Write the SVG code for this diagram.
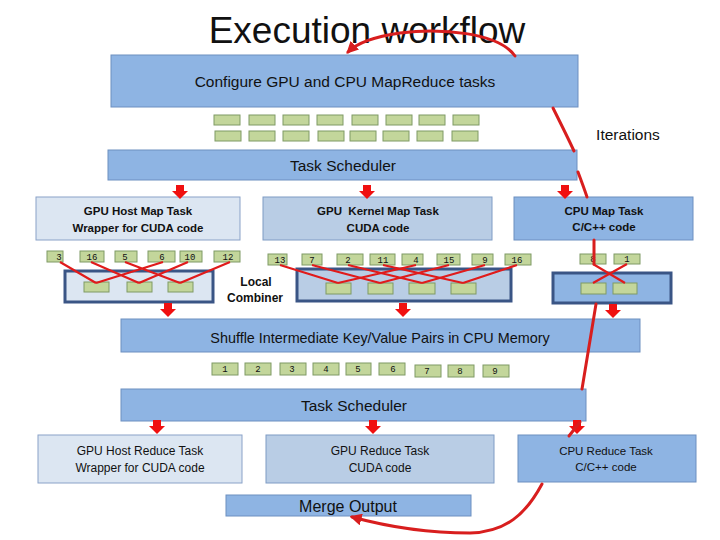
<svg xmlns="http://www.w3.org/2000/svg" xmlns:xlink="http://www.w3.org/1999/xlink" width="720" height="540" viewBox="0 0 720 540">
<style>
text{font-family:"Liberation Sans",Arial,sans-serif;fill:#111;text-anchor:middle}
.b1{fill:#8eb4e3;stroke:#6d8fc0;stroke-width:1}
.b2{fill:#b9cde5;stroke:#7f9bc4;stroke-width:1}
.b3{fill:#dce6f2;stroke:#8aa2c8;stroke-width:1}
.cb{stroke:#3a5585;stroke-width:3}
.g{fill:#c3d69b;stroke:#7f9a65;stroke-width:1}
.n{font-family:"Liberation Mono","DejaVu Sans Mono",monospace;font-size:9px}
.m{font-size:11.5px;font-weight:bold}
.r{font-size:12px}
.x{stroke:#e01b1b;stroke-width:2.2;fill:none}
.it{stroke:#d81e1e;stroke-width:3;fill:none;stroke-linecap:round}
</style>
<defs>
<path id="ba" d="M-4,0 h8 v6 h4 l-8,8 l-8,-8 h4 z" fill="#f01010"/>
<marker id="ah" viewBox="0 0 10 10" refX="8" refY="5" markerWidth="12" markerHeight="12" markerUnits="userSpaceOnUse" orient="auto"><path d="M0,0 L10,5 L0,10 z" fill="#d81e1e"/></marker>
</defs>
<rect width="720" height="540" fill="#fff"/>
<text x="367" y="43" style="font-size:37px">Execution workflow</text>
<text x="628" y="140" style="font-size:15.5px">Iterations</text>

<g id="config"><rect class="b1" x="111" y="55" width="467" height="52"/><text x="345" y="87" style="font-size:15.5px">Configure GPU and CPU MapReduce tasks</text></g>
<g id="tasks">
<rect class="g" x="214" y="115" width="26" height="10"/><rect class="g" x="249" y="115" width="26" height="10"/><rect class="g" x="283" y="115" width="26" height="10"/><rect class="g" x="317" y="115" width="26" height="10"/><rect class="g" x="352" y="115" width="26" height="10"/><rect class="g" x="386" y="115" width="26" height="10"/><rect class="g" x="419" y="115" width="26" height="10"/><rect class="g" x="453" y="115" width="26" height="10"/>
<rect class="g" x="215" y="131" width="26" height="10"/><rect class="g" x="249" y="131" width="26" height="10"/><rect class="g" x="283" y="131" width="26" height="10"/><rect class="g" x="318" y="131" width="26" height="10"/><rect class="g" x="350" y="131" width="26" height="10"/><rect class="g" x="383" y="131" width="26" height="10"/><rect class="g" x="417" y="131" width="26" height="10"/><rect class="g" x="452" y="131" width="26" height="10"/>
</g>
<g id="sched1"><rect class="b1" x="108" y="150" width="469" height="30"/><text x="343" y="171" style="font-size:15.5px">Task Scheduler</text></g>

<g id="gpuhostmap"><rect class="b3" x="36" y="197" width="204" height="43"/><text class="m" x="138" y="215">GPU Host Map Task</text><text class="m" x="138" y="232">Wrapper for CUDA code</text></g>
<g id="gpukernelmap"><rect class="b2" x="263" y="197" width="229" height="43"/><text class="m" x="378" y="215" xml:space="preserve">GPU  Kernel Map Task</text><text class="m" x="378" y="232">CUDA code</text></g>
<g id="cpumap"><rect class="b1" x="514" y="197" width="179" height="43"/><text class="m" x="604" y="215">CPU Map Task</text><text class="m" x="604" y="231">C/C++ code</text></g>

<g id="keys1">
<rect class="g" x="47" y="251" width="16" height="11"/><text class="n" x="59" y="260">3</text>
<rect class="g" x="80" y="251" width="24" height="11"/><text class="n" x="92" y="260">16</text>
<rect class="g" x="115" y="251" width="22" height="11"/><text class="n" x="125" y="260">5</text>
<rect class="g" x="148" y="251" width="27" height="11"/><text class="n" x="162" y="260">6</text>
<rect class="g" x="180" y="251" width="22" height="11"/><text class="n" x="190" y="260">10</text>
<rect class="g" x="214" y="251" width="26" height="11"/><text class="n" x="228" y="260">12</text>
<rect class="g" x="268" y="254" width="19" height="11"/><text class="n" x="280" y="263">13</text>
<rect class="g" x="302" y="254" width="20" height="11"/><text class="n" x="312" y="263">7</text>
<rect class="g" x="337" y="254" width="26" height="11"/><text class="n" x="348" y="263">2</text>
<rect class="g" x="370" y="254" width="25" height="11"/><text class="n" x="383" y="263">11</text>
<rect class="g" x="402" y="254" width="21" height="11"/><text class="n" x="416" y="263">4</text>
<rect class="g" x="437" y="254" width="23" height="11"/><text class="n" x="449" y="263">15</text>
<rect class="g" x="472" y="254" width="21" height="11"/><text class="n" x="485" y="263">9</text>
<rect class="g" x="505" y="254" width="26" height="11"/><text class="n" x="517" y="263">16</text>
<rect class="g" x="580" y="254" width="26" height="10"/><text class="n" x="593" y="262">8</text>
<rect class="g" x="614" y="254" width="26" height="10"/><text class="n" x="627" y="262">1</text>
</g>

<g id="combiner1"><rect class="b3 cb" x="65" y="271" width="148" height="31"/><rect class="g" x="84" y="282" width="25" height="10"/><rect class="g" x="127" y="282" width="25" height="10"/><rect class="g" x="168" y="282" width="25" height="10"/></g>
<g id="combiner2"><rect class="b2 cb" x="297" y="269" width="214" height="32"/><rect class="g" x="326" y="283" width="25" height="11"/><rect class="g" x="368" y="283" width="25" height="11"/><rect class="g" x="409" y="283" width="26" height="11"/><rect class="g" x="451" y="283" width="25" height="11"/></g>
<g id="combiner3"><rect class="b1 cb" x="553" y="273" width="118" height="30"/><rect class="g" x="581" y="283" width="25" height="11"/><rect class="g" x="613" y="283" width="24" height="11"/></g>
<g id="localcombiner"><text x="256" y="286" style="font-size:12px;font-weight:bold">Local</text><text x="255" y="302" style="font-size:12px;font-weight:bold">Combiner</text></g>

<g id="shuffle"><rect class="b1" x="121" y="319" width="519" height="33"/><text x="380" y="343" style="font-size:14.4px">Shuffle Intermediate Key/Value Pairs in CPU Memory</text></g>
<g id="keys2">
<rect class="g" x="212" y="363" width="26" height="12"/><text class="n" x="225" y="372">1</text>
<rect class="g" x="245" y="363" width="26" height="12"/><text class="n" x="258" y="372">2</text>
<rect class="g" x="280" y="363" width="26" height="12"/><text class="n" x="292" y="372">3</text>
<rect class="g" x="313" y="363" width="26" height="12"/><text class="n" x="326" y="372">4</text>
<rect class="g" x="346" y="363" width="25" height="12"/><text class="n" x="358" y="372">5</text>
<rect class="g" x="379" y="363" width="26" height="12"/><text class="n" x="393" y="372">6</text>
<rect class="g" x="415" y="365" width="26" height="12"/><text class="n" x="427" y="374">7</text>
<rect class="g" x="448" y="365" width="26" height="12"/><text class="n" x="460" y="374">8</text>
<rect class="g" x="483" y="365" width="26" height="12"/><text class="n" x="495" y="374">9</text>
</g>
<g id="sched2"><rect class="b1" x="121" y="389" width="465" height="32"/><text x="354" y="411" style="font-size:15.5px">Task Scheduler</text></g>

<g id="gpuhostreduce"><rect class="b3" x="38" y="435" width="204" height="48"/><text class="r" x="140" y="455">GPU Host Reduce Task</text><text class="r" x="140" y="472">Wrapper for CUDA code</text></g>
<g id="gpureduce"><rect class="b2" x="266" y="435" width="228" height="48"/><text class="r" x="380" y="455">GPU Reduce Task</text><text class="r" x="380" y="472">CUDA code</text></g>
<g id="cpureduce"><rect class="b1" x="518" y="435" width="178" height="47"/><text x="606" y="455" style="font-size:11.5px">CPU Reduce Task</text><text x="606" y="471" style="font-size:11.5px">C/C++ code</text></g>
<g id="merge"><rect class="b1" x="226" y="495" width="245" height="21"/><text x="348" y="512" style="font-size:16px">Merge Output</text></g>

<g id="connectors">
<use href="#ba" x="180" y="185"/><use href="#ba" x="367" y="185"/><use href="#ba" x="565" y="185"/>
<use href="#ba" x="168" y="303"/><use href="#ba" x="403" y="303"/><use href="#ba" x="613" y="304"/>
<use href="#ba" x="157" y="420"/><use href="#ba" x="373" y="420"/><use href="#ba" x="577" y="420"/>
<path class="x" d="M60,262 L96,283 M163,262 L96,283 M91,262 L139,283 M188,262 L139,283 M125,262 L180,283 M230,262 L180,283"/>
<path class="x" d="M280,265 L338,283 M416,265 L338,283 M312,265 L380,283 M449,265 L380,283 M348,265 L422,283 M485,265 L422,283 M383,265 L463,283 M517,265 L463,283"/>
<path class="x" d="M593,264 L625,283 M627,264 L593,283"/>
<path class="it" d="M515,56 C498,32 440,28 400,33 C372,37 356,44 348,52" marker-end="url(#ah)"/>
<path class="it" d="M553,108 C561,124 568,138 574,151"/>
<path class="it" d="M578,172 C581,180 584,188 587,197"/>
<path class="it" d="M594,240 L594,264"/>
<path class="it" d="M596,304 L582,389"/>
<path class="it" d="M580,422 L569,436"/>
<path class="it" d="M542,484 C526,514 506,532 470,533 C425,533 385,526 352,517" marker-end="url(#ah)"/>
</g>
</svg>
